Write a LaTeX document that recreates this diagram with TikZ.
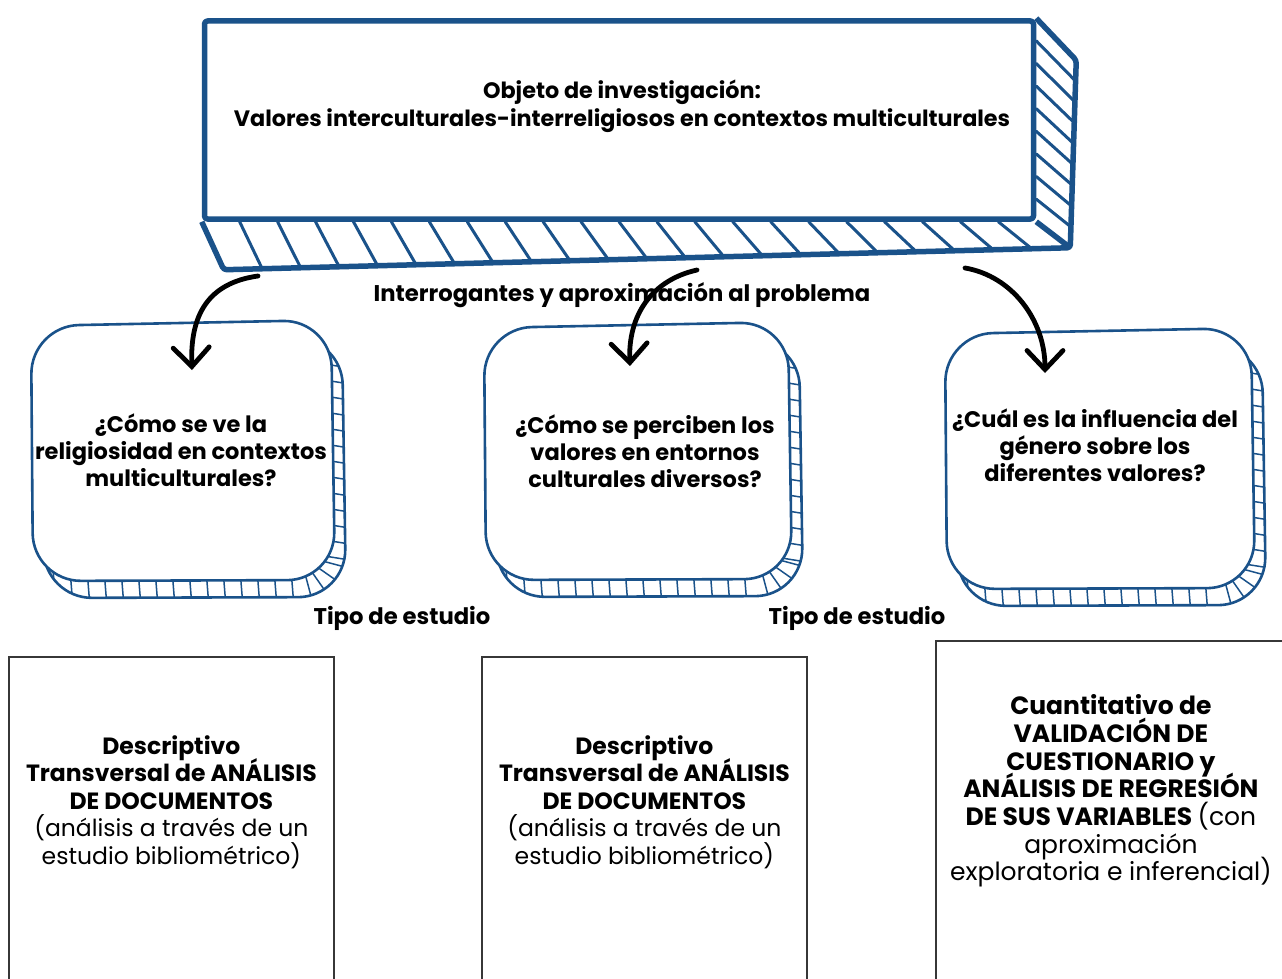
\documentclass[tikz,border=0pt]{standalone}
\usepackage{fontspec}
\setmainfont{Poppins}
\usetikzlibrary{arrows.meta,calc}

\definecolor{azul}{RGB}{26,82,138}
\definecolor{gris}{RGB}{55,55,55}
\newcommand\juntas{\lineskiplimit=-100pt\relax}

\tikzset{
  marco/.style={draw=azul, line width=5.5, line join=round, rounded corners=3},
  franja/.style={draw=azul, line width=3, line cap=round},
  burbuja/.style={draw=azul, line width=2.6, fill=white, rounded corners=48},
  raya/.style={draw=azul, line width=1.5},
  flecha/.style={line width=4.8, line cap=round, -{Straight Barb[length=19,width=36,line cap=round]}},
  titulo/.style={align=center, font=\fontsize{22.3}{28}\selectfont\bfseries\juntas},
  pregunta/.style={align=center, font=\fontsize{22.5}{27}\selectfont\bfseries\juntas},
  etiqueta/.style={font=\fontsize{22.7}{26}\selectfont\bfseries},
  tipo/.style={draw=gris, line width=1.8, minimum height=360, anchor=north west},
  texto/.style={align=center, font=\fontsize{23.5}{27.5}\selectfont\bfseries\juntas},
}

\begin{document}
\begin{tikzpicture}[x=1pt,y=-1pt]
\clip (0,0) rectangle (1282,979);
\fill[white] (0,0) rectangle (1282,979);

% objeto de investigacion, caja con volumen
\node[marco, fill=white, minimum width=829, minimum height=198] (objeto) at (619,120) {};
\coordinate (f1) at (objeto.north east);
\coordinate (f2) at (objeto.south east);
\coordinate (f3) at (objeto.south west);
\coordinate (b1) at ($(objeto.north east)+(40,42)$);
\coordinate (b2) at ($(objeto.south east)+(34,26)$);
\coordinate (b3) at ($(objeto.south west)+(22,48)$);
\draw[marco] (f3) -- (b3) -- (b2) -- (b1) -- (f1);
\draw[marco] (f2) -- (b2);
\foreach \i in {1,...,21}
  \draw[franja] ($(f3)!\i/22!(f2)$) -- ($(b3)!\i/22!(b2)$);
\foreach \i in {1,...,8}
  \draw[franja] ($(f1)!\i/9!(f2)$) -- ($(b1)!\i/9!(b2)$);
\node[titulo] (objtxt) at (622,106) {Objeto de investigación:\\Valores interculturales-interreligiosos en contextos multiculturales};

% preguntas
\foreach \x/\y/\w/\h in {31/320/300/260, 484/322/304/257, 945/328/306/260} {
  \begin{scope}[shift={(\x,\y)}]
    \begin{scope}[shift={(11,17)}]
      \draw[burbuja] (0,6) -- (\w,0) -- (\w+4,\h) -- (2,\h+1) -- cycle;
      \clip[rounded corners=48] (0,6) -- (\w,0) -- (\w+4,\h) -- (2,\h+1) -- cycle;
      \foreach \i in {0,...,14}
        \draw[raya] (10+\i*17,\h-40) -- (14+\i*17,\h+10);
      \foreach \i in {0,...,12}
        \draw[raya] (\w-30,25+\i*16) -- (\w+20,33+\i*16);
      \foreach \a in {15,35,55,75}
        \draw[raya] (\w-42,\h-42) -- ++(\a:100);
    \end{scope}
    \draw[burbuja] (0,6) -- (\w,0) -- (\w+4,\h) -- (2,\h+1) -- cycle;
  \end{scope}
}
\node[pregunta] (q1) at (181,450) {¿Cómo se ve la\\religiosidad en contextos\\multiculturales?};
\node[pregunta] (q2) at (645,451) {¿Cómo se perciben los\\valores en entornos\\culturales diversos?};
\node[pregunta] (q3) at (1095,445) {¿Cuál es la influencia del\\género sobre los\\diferentes valores?};

% flechas
\coordinate (s1) at (258,276);
\coordinate (s2) at (697,270);
\coordinate (s3) at (965,268);
\coordinate (p1) at (192,370);
\coordinate (p2) at (630,366);
\coordinate (p3) at (1045,373);
\draw[flecha] (s1) .. controls (208,283) and (190,315) .. (p1);
\draw[flecha] (s2) .. controls (652,280) and (628,315) .. (p2);
\draw[flecha] (s3) .. controls (1012,276) and (1045,320) .. (p3);
\node[etiqueta] (interrog) at (622,295) {Interrogantes y aproximación al problema};

% tipo de estudio
\node[etiqueta] (tipo1) at (402,618) {Tipo de estudio};
\node[etiqueta] (tipo2) at (857,618) {Tipo de estudio};

\node[tipo, minimum width=325] (tA) at (8,656) {};
\node[tipo, minimum width=325] (tB) at (481,656) {};
\node[tipo, minimum width=350] (tC) at (935,640) {};
\node[texto] (dA) at ($(tA.north)+(0,146)$) {Descriptivo\\Transversal de ANÁLISIS\\DE DOCUMENTOS\\\mdseries(análisis a través de un\\\mdseries estudio bibliométrico)};
\node[texto] (dB) at ($(tB.north)+(0,146)$) {Descriptivo\\Transversal de ANÁLISIS\\DE DOCUMENTOS\\\mdseries(análisis a través de un\\\mdseries estudio bibliométrico)};
\node[texto, font=\fontsize{25}{27.7}\selectfont\bfseries\juntas] (dC) at ($(tC.north)+(0,151)$) {Cuantitativo de\\VALIDACIÓN DE\\CUESTIONARIO y\\ANÁLISIS DE REGRESIÓN\\DE SUS VARIABLES \mdseries(con\\\mdseries aproximación\\\mdseries exploratoria e inferencial)};
\end{tikzpicture}
\end{document}
